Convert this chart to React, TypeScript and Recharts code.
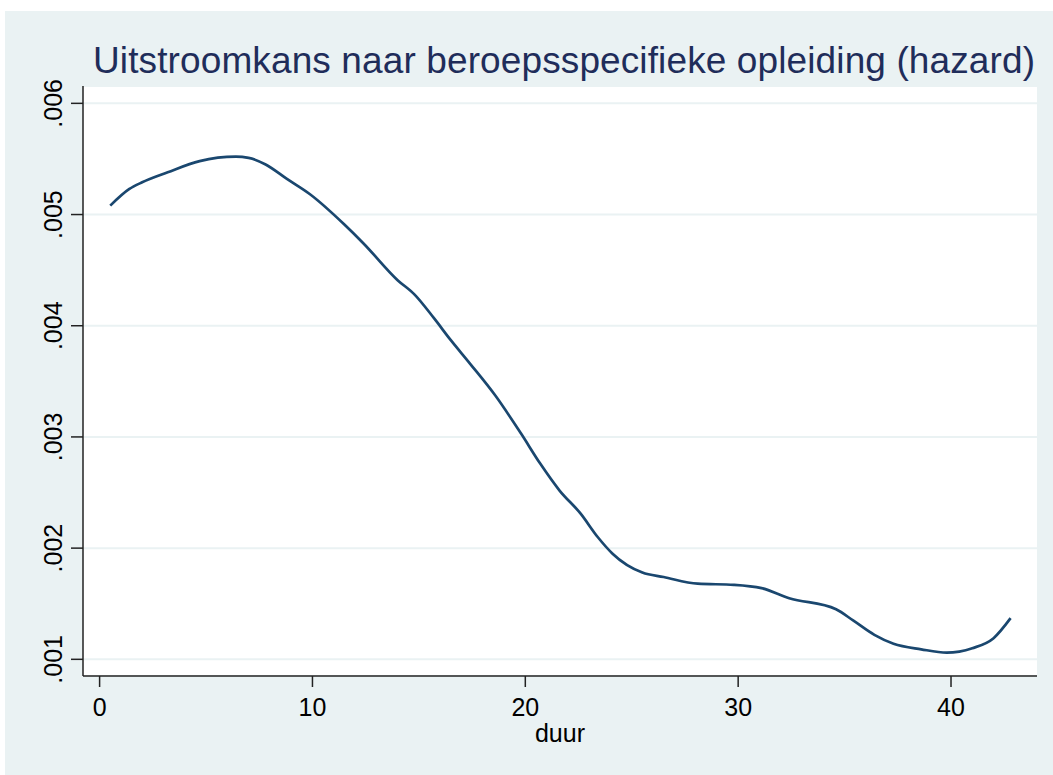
import { LineChart, Line, XAxis, YAxis, CartesianGrid, Label } from "recharts"

const duur = [
  0.5, 1.4, 2.0, 3.2, 4.7, 6.4, 7.0, 7.8, 8.8, 9.9, 11.5, 12.4, 14.0, 14.8, 15.7, 16.5,
  17.4, 18.6, 19.8, 20.7, 21.6, 22.6, 23.4, 24.1, 25.5, 26.5, 28.1, 29.8, 31.1, 32.4,
  34.6, 35.4, 36.4, 37.3, 38.6, 39.8, 41.0, 42.0, 42.8,
]

const hazard = [
  0.00508, 0.00523, 0.00529, 0.00538, 0.00548, 0.00552, 0.00551, 0.00545, 0.00532, 0.00518,
  0.00491, 0.00474, 0.00441, 0.00428, 0.00407, 0.00387, 0.00366, 0.00337, 0.00303, 0.00276,
  0.00252, 0.00231, 0.0021, 0.00195, 0.00178, 0.00174, 0.00168, 0.00167, 0.00164, 0.00155,
  0.00145, 0.00135, 0.00122, 0.00114, 0.00109, 0.00106, 0.0011, 0.00119, 0.00137,
]

const xTicks = [0, 10, 20, 30, 40]
const yTicks = [0.001, 0.002, 0.003, 0.004, 0.005, 0.006]

const title = "Uitstroomkans naar beroepsspecifieke opleiding (hazard)"

const data = duur.map((d, i) => ({ duur: d, hazard: hazard[i] }))

const FONT = "'Liberation Sans', Arial, Helvetica, sans-serif"
const BG = "#eaf2f3"

// y labels in Stata style: rotated, no leading zero
function YTick(props: any) {
  const { y, payload } = props
  const label = payload.value.toFixed(3).replace(/^0/, "")
  return (
    <text
      x={62}
      y={y}
      transform={`rotate(-90 62 ${y})`}
      textAnchor="middle"
      fontSize={25}
      fontFamily={FONT}
      fill="#000"
    >
      {label}
    </text>
  )
}

export default function App() {
  return (
    <div style={{ position: "absolute", left: 0, top: 0, width: 1053, height: 775, background: "#fff" }}>
      <div style={{ position: "absolute", left: 5, top: 11, width: 1048, height: 764, background: BG }} />
      <svg style={{ position: "absolute", left: 0, top: 0 }} width={1053} height={100}>
        <text x={93} y={73} fontSize={37} textLength={942} fontFamily={FONT} fill="#1f2d5a">
          {title}
        </text>
      </svg>
      <div style={{ position: "absolute", left: 0, top: 0 }}>
        <LineChart
          width={1053}
          height={775}
          data={data}
          margin={{ top: 86, right: 16, left: 0, bottom: 0 }}
        >
          <CartesianGrid vertical={false} stroke={BG} strokeWidth={2} fill="#fff" />
          <XAxis
            dataKey="duur"
            type="number"
            domain={[-0.78, 44.04]}
            ticks={xTicks}
            allowDataOverflow
            height={99}
            tickSize={11}
            tickMargin={11}
            stroke="#222"
            strokeWidth={1.5}
            tick={{ fontSize: 25, fontFamily: FONT, fill: "#000" }}
          >
            <Label
              value="duur"
              position="insideBottom"
              offset={33}
              style={{ fontSize: 25, fontFamily: FONT, fill: "#000" }}
            />
          </XAxis>
          <YAxis
            type="number"
            domain={[0.00085, 0.006156]}
            ticks={yTicks}
            allowDataOverflow
            width={83}
            tickSize={12}
            stroke="#222"
            strokeWidth={1.5}
            tick={<YTick />}
          />
          <Line
            dataKey="hazard"
            type="monotone"
            stroke="#1a476f"
            strokeWidth={2.7}
            dot={false}
            isAnimationActive={false}
          />
        </LineChart>
      </div>
    </div>
  )
}
